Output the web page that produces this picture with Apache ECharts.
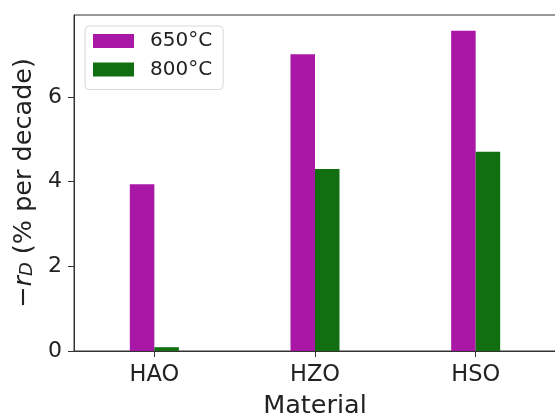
<!DOCTYPE html>
<html>
<head>
<meta charset="utf-8">
<script src="https://cdn.jsdelivr.net/npm/echarts@6/dist/echarts.min.js"></script>
<style>html,body{margin:0;padding:0;background:#fff;}#c{width:555px;height:417px;}</style>
</head>
<body>
<div id="c"></div>
<script>
var categories = ['HAO', 'HZO', 'HSO'];
var seriesNames = ['650°C', '800°C'];
var values650 = [3.94, 7.01, 7.57];
var values800 = [0.09, 4.30, 4.71];
var yTicks = [0, 2, 4, 6];
var yMax = 7.94;

var FONT = 'DejaVu Sans';
var chart = echarts.init(document.getElementById('c'), null, {renderer: 'canvas'});
chart.setOption({
  animation: false,
  textStyle: {fontFamily: FONT},
  grid: {left: 74, right: -1, top: 15, bottom: 66, show: true, borderColor: '#333', borderWidth: 1, backgroundColor: 'transparent', containLabel: false, outerBoundsMode: 'none'},
  legend: {
    orient: 'vertical', left: 85, top: 26,
    itemWidth: 41, itemHeight: 14, itemGap: 8.5,
    padding: [5, 11, 10, 8],
    borderColor: '#d8d8d8', borderWidth: 1, borderRadius: 4,
    backgroundColor: 'rgba(255,255,255,0.8)',
    icon: 'rect',
    textStyle: {fontFamily: FONT, fontSize: 20, color: '#222', padding: [0, 0, 0, 11]},
    data: seriesNames
  },
  xAxis: {
    type: 'category', data: categories,
    axisLine: {show: true, lineStyle: {color: '#333', width: 1}},
    axisTick: {show: true, alignWithLabel: true, length: 6, lineStyle: {color: '#333'}},
    axisLabel: {fontFamily: FONT, fontSize: 22.5, color: '#222', margin: 13},
    name: 'Material', nameLocation: 'middle', nameGap: 42,
    nameTextStyle: {fontFamily: FONT, fontSize: 25.5, color: '#222'}
  },
  yAxis: {
    type: 'value', min: 0, max: yMax, interval: 2,
    splitLine: {show: false},
    axisLine: {show: true, lineStyle: {color: '#333', width: 1}},
    axisTick: {show: true, length: 6, lineStyle: {color: '#333'}, customValues: yTicks},
    axisLabel: {fontFamily: FONT, fontSize: 22, color: '#222', margin: 12, customValues: yTicks},
    name: '{n|−}{i|r}{s|D}{n| (% per decade)}',
    nameLocation: 'middle', nameGap: 36, nameRotate: 90,
    nameTextStyle: {
      fontFamily: FONT, fontSize: 25.5, color: '#222',
      rich: {
        n: {fontFamily: FONT, fontSize: 25.5, color: '#222'},
        i: {fontFamily: FONT, fontSize: 25.5, fontStyle: 'italic', color: '#222'},
        s: {fontFamily: FONT, fontSize: 18, fontStyle: 'italic', color: '#222', padding: [0, 0, -7, 0]}
      }
    }
  },
  series: [
    {name: seriesNames[0], type: 'bar', data: values650, barWidth: 24.5, barGap: '0%', itemStyle: {color: '#a817a5'}},
    {name: seriesNames[1], type: 'bar', data: values800, barWidth: 24.5, barGap: '0%', itemStyle: {color: '#116e11'}}
  ]
});
</script>
</body>
</html>
